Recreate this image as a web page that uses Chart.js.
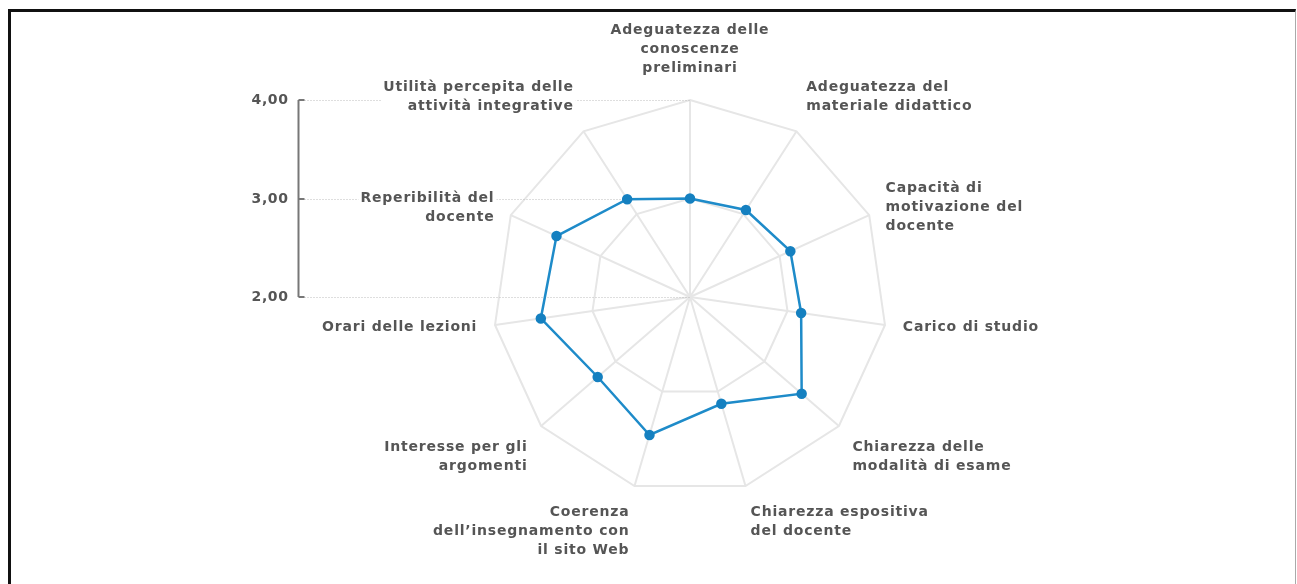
<!DOCTYPE html>
<html>
<head>
<meta charset="utf-8">
<script src="https://cdn.jsdelivr.net/npm/chart.js@4.4.1/dist/chart.umd.min.js"></script>
<style>
    body{margin:0;background:#fff;}
    #frame{position:absolute;left:8px;top:9px;width:1284px;height:600px;border-top:3px solid #111;border-left:3px solid #111;border-right:1px solid #aaa;}
    #myRadar{position:absolute;left:0;top:0;}
</style>
</head>
<body>
<div id="frame"></div>
<canvas id="myRadar" width="1297" height="584"></canvas>
<script>
let radar = document.getElementById("myRadar")

let categories = [
    ["Adeguatezza delle", "conoscenze", "preliminari"],
    ["Adeguatezza del", "materiale didattico"],
    ["Capacità di", "motivazione del", "docente"],
    ["Carico di studio"],
    ["Chiarezza delle", "modalità di esame"],
    ["Chiarezza espositiva", "del docente"],
    ["Coerenza", "dell’insegnamento con", "il sito Web"],
    ["Interesse per gli", "argomenti"],
    ["Orari delle lezioni"],
    ["Reperibilità del", "docente"],
    ["Utilità percepita delle", "attività integrative"]
]
let scores = [3.00, 3.05, 3.12, 3.14, 3.50, 3.13, 3.46, 3.24, 3.53, 3.49, 3.18]
let tickValues = [2, 3, 4]
let tickLabels = ["2,00", "3,00", "4,00"]

let textFont = "bold 14px 'DejaVu Sans'"
let textColor = "#555"

// left value axis + dotted guides, drawn behind the radar
let sideAxis = {
    id: "sideAxis",
    beforeDatasetsDraw(chart) {
        let ctx = chart.ctx
        let r = chart.scales.r
        let axisX = 298.5
        ctx.save()
        ctx.strokeStyle = "#bdbdbd"
        ctx.lineWidth = 1
        ctx.setLineDash([1, 2])
        tickValues.forEach(v => {
            let y = Math.round(r.yCenter - r.getDistanceFromCenterForValue(v)) + 0.5
            ctx.beginPath()
            ctx.moveTo(axisX + 6, y)
            ctx.lineTo(r.xCenter, y)
            ctx.stroke()
        })
        ctx.setLineDash([])
        ctx.strokeStyle = "#777"
        ctx.lineWidth = 2
        let yTop = r.yCenter - r.getDistanceFromCenterForValue(tickValues[tickValues.length - 1])
        let yBot = r.yCenter - r.getDistanceFromCenterForValue(tickValues[0])
        ctx.beginPath()
        ctx.moveTo(axisX, yTop)
        ctx.lineTo(axisX, yBot)
        ctx.stroke()
        ctx.font = textFont
        ctx.letterSpacing = "0.6px"
        ctx.fillStyle = textColor
        ctx.textAlign = "right"
        ctx.textBaseline = "middle"
        tickValues.forEach((v, i) => {
            let y = Math.round(r.yCenter - r.getDistanceFromCenterForValue(v))
            ctx.beginPath()
            ctx.moveTo(axisX, y)
            ctx.lineTo(axisX + 6, y)
            ctx.stroke()
            ctx.fillText(tickLabels[i], axisX - 10, y)
        })
        ctx.restore()
    }
}

// category labels round the radar, with a white backdrop
let radarLabels = {
    id: "radarLabels",
    afterDraw(chart) {
        let ctx = chart.ctx
        let r = chart.scales.r
        let lh = 19
        ctx.save()
        ctx.font = textFont
        ctx.letterSpacing = "0.8px"
        ctx.textBaseline = "middle"
        categories.forEach((lines, i) => {
            let deg = i * 360 / categories.length
            let pos = r.getPointPosition(i, r.drawingArea + 18)
            let align = "center"
            if (deg > 0.5 && deg < 179.5) align = "left"
            if (deg > 180.5) align = "right"
            let h = lines.length * lh
            let top
            if ((deg >= 60 && deg <= 120) || (deg >= 240 && deg <= 300)) top = pos.y - h / 2
            else if (deg < 90 || deg > 270) top = pos.y - h
            else top = pos.y
            if (deg < 0.5) top -= 4
            let w = Math.max(...lines.map(t => ctx.measureText(t).width))
            let left = align == "left" ? pos.x : align == "right" ? pos.x - w : pos.x - w / 2
            ctx.fillStyle = "#fff"
            ctx.fillRect(left - 2, top, w + 4, h)
            ctx.fillStyle = textColor
            ctx.textAlign = align
            lines.forEach((t, k) => {
                ctx.fillText(t, pos.x, top + lh / 2 + k * lh)
            })
        })
        ctx.restore()
    }
}

let radarObject = new Chart(radar, {
    type: "radar",
    data: {
        labels: categories,
        datasets: [{
            data: scores,
            borderColor: "#1e8bc9",
            backgroundColor: "rgba(0,0,0,0)",
            borderWidth: 2.5,
            pointBackgroundColor: "#1580c0",
            pointBorderColor: "#1580c0",
            pointRadius: 4,
            fill: false,
            tension: 0
        }]
    },
    options: {
        responsive: false,
        animation: false,
        events: [],
        layout: {
            padding: {left: 493, right: 410, top: 100, bottom: 90}
        },
        plugins: {
            legend: {display: false},
            tooltip: {enabled: false}
        },
        scales: {
            r: {
                min: 2,
                max: 4,
                ticks: {display: false, stepSize: 1},
                grid: {color: "#e6e6e6", lineWidth: 2},
                angleLines: {color: "#e6e6e6", lineWidth: 2},
                pointLabels: {display: false}
            }
        }
    },
    plugins: [sideAxis, radarLabels]
})
</script>
</body>
</html>
